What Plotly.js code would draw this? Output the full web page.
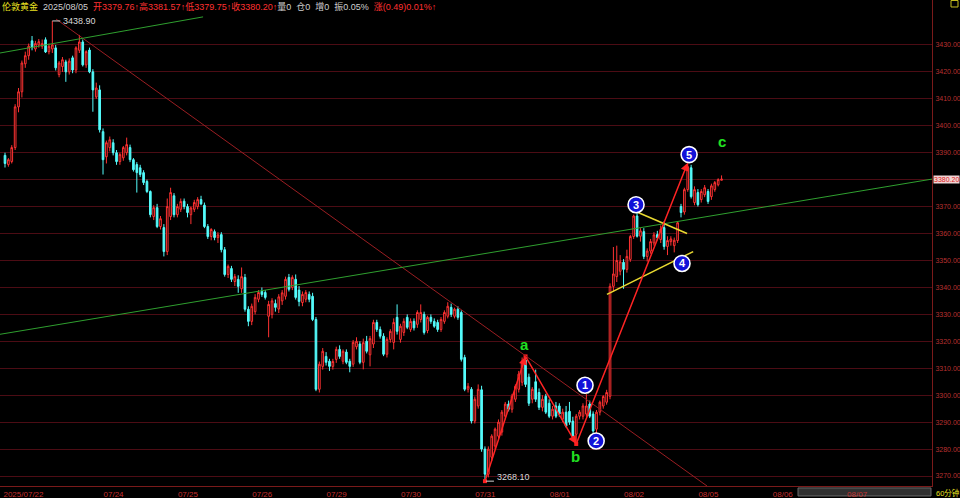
<!DOCTYPE html>
<html><head><meta charset="utf-8">
<script src="https://cdn.plot.ly/plotly-3.0.1.min.js"></script>
<style>html,body{margin:0;padding:0;background:#000;}#chart{width:960px;height:498px;}</style>
</head><body><div id="chart"></div>
<script>
const opens = [
3389,3385.6,3386.7,3391.9,3407,3412.6,3423,3426,3431.5,3428.5,
3430,3429.5,3431.9,3427.5,3428.5,3428.9,3419,3422,3423.7,3420,
3425.2,3420.7,3428,3431.1,3422.6,3428.1,3420,3410.7,3413.3,3397.8,
3388.5,3391.9,3393.7,3390,3386.7,3388.1,3390,3391.9,3387.4,3385.6,
3384.4,3382.6,3379.3,3375.6,3366.3,3369.6,3362.6,3362.2,3353.3,3366.3,
3374,3367,3369,3372,3370,3367,3369,3370,3372.6,3370.5,
3362.6,3358.9,3360.7,3358.5,3359.6,3354,3344.8,3347,3342.2,3343,
3339.5,3343.7,3331.9,3327.4,3331,3335.6,3338.5,3338.1,3329.3,3330,
3334,3332,3335,3336.7,3343.7,3340,3343,3339,3334.4,3335.6,
3337.4,3336.7,3328.1,3302.2,3310.7,3314.4,3312.6,3310.7,3313.3,3317,
3312.6,3316,3312.6,3311.5,3318,3319,3312.2,3320,3315,3319,
3327,3324.4,3321.9,3315.2,3320.7,3319.6,3328.9,3320.7,3323.3,3328.9,
3324.4,3327.4,3326.3,3328.1,3330,3324,3328.9,3327.4,3327,3324.4,
3327.4,3329.3,3332.6,3329.3,3331.9,3330.7,3314,3302.2,3302.2,3290.4,
3296,3302,3280,3270.7,3277,3281.1,3284.8,3286.3,3292.2,3296.7,
3294.8,3298.5,3302.2,3304.8,3313,3306.7,3298.5,3305,3301,3295.5,
3299.6,3297,3292.2,3296,3296,3291.1,3293.7,3294,3290.4,3285.5,
3292.2,3292.2,3293,3296.7,3293,3287.4,3293.7,3296,3297.4,3299.6,
3340.4,3344,3346,3349.3,3346.7,3350.4,3358.9,3366.5,3359,3360.7,
3351.5,3353.5,3356.5,3359.6,3357.8,3362.2,3355.2,3357,3355.5,3357.4,
3370,3368,3376.3,3384.4,3371.5,3375.2,3372.6,3374.4,3375.6,3373.7,
3376.3,3378.1,3379.76];
const highs = [
3390,3388,3392.8,3408,3414,3424.2,3427.5,3430.5,3433.3,3431.5,
3432.2,3432,3432.8,3430.5,3438.9,3430,3424,3425.5,3424.5,3425,
3426,3429.5,3433.7,3432,3428,3429,3421,3416,3415,3399,
3394.5,3396,3395,3391,3390,3392.5,3395.6,3393,3388,3386.5,
3385.5,3383.5,3380,3376,3370.5,3371,3366.5,3363.5,3373,3377,
3375,3371,3373,3373,3371,3370,3372.5,3373.5,3374,3371.5,
3363.5,3362,3361.5,3360.5,3360.5,3355,3348.5,3348,3345,3344.5,
3347.4,3345,3333,3334,3337.5,3339,3340,3339,3335,3336,
3335.5,3337.5,3339,3344,3345,3344.5,3344.8,3340.5,3338.5,3339,
3338.5,3338,3329,3312.5,3317.5,3316,3313.5,3313.5,3318,3318.5,
3317,3317,3313.5,3320.5,3321.5,3320,3321,3322,3322,3328,
3328,3325.5,3323,3321.5,3324.5,3328.5,3333.7,3326.5,3328.5,3330,
3328.5,3328.5,3331.5,3333.7,3331,3329.5,3330,3328.5,3328,3329,
3331.5,3334.5,3334,3332.5,3333,3331.5,3315,3304.5,3303,3299.5,
3304,3303.5,3281,3281,3285.5,3288,3291,3294.5,3297.5,3298,
3300.5,3304,3309,3314,3314.4,3308,3303,3309.5,3302.5,3300,
3300.5,3298.5,3296,3297.5,3297,3295,3296,3297.5,3292,3293,
3294.5,3297,3300.4,3298,3294,3294.5,3298,3300,3302,3341.5,
3355,3355.5,3352,3350.5,3354,3359.5,3367,3367.8,3362,3362,
3354.5,3358,3360.5,3361,3363,3364.5,3359,3359,3358.5,3364.5,
3371,3377,3386.3,3385.5,3377.5,3376.5,3376.5,3378,3376.5,3378.5,
3379.5,3380.5,3381.57];
const lows = [
3384.5,3384.8,3386,3391,3405,3410.5,3421.5,3424.5,3428,3427.5,
3429,3428.5,3427,3426.5,3427,3420.5,3418,3420,3416.3,3419,
3419.5,3419.5,3427,3422,3421.5,3419.5,3405.2,3410,3397.5,3381.9,
3386,3390.5,3389,3385.5,3385.5,3387,3389,3386.5,3383,3375.2,
3381,3378,3375,3366,3365,3362,3361.5,3351.5,3352,3365,
3366,3366,3368,3369,3366,3363.5,3368,3369,3370.5,3362,
3358,3357.5,3357.5,3356.5,3353,3344,3343.5,3342,3340.5,3338,
3338,3331,3325.6,3326,3330,3334.5,3336.5,3335.5,3321.5,3328.5,
3331,3330.5,3333.5,3335.5,3338.5,3339,3335.5,3333,3333,3334.5,
3334.5,3327.5,3301.5,3301,3309.5,3311,3309,3309.5,3312,3313.5,
3311.5,3311.5,3308.5,3310.5,3317,3311.5,3309.6,3315.5,3310.7,3317.5,
3323.5,3321,3314.5,3314,3319.5,3317,3322.5,3319.5,3322,3324.5,
3323.5,3324,3325,3327,3322.5,3323,3326.5,3325,3323.5,3323.5,
3326.5,3328.5,3329,3328.5,3328,3312.5,3301.5,3301,3289.5,3289.5,
3295,3279,3268.1,3269.5,3275.5,3280,3283.5,3285,3291,3294,
3293.5,3297.5,3301,3303.5,3303,3296,3297,3297.5,3294.5,3294,
3293,3291.5,3291,3291.5,3292,3290,3288,3289,3284,3281.9,
3291,3291,3292,3291.5,3286,3285.5,3292.5,3295,3296.5,3298.5,
3338.5,3342,3344.5,3339.5,3345.5,3349.5,3358,3358.5,3357,3350.5,
3349.6,3352.5,3355.5,3357.5,3356.5,3354,3352,3355.5,3353,3356.5,
3366,3367,3375.5,3373,3370.5,3370,3371.5,3373.5,3371,3372.5,
3375.5,3377.5,3379.75];
const closes = [
3386,3387.4,3391.9,3407,3412.6,3423.3,3426,3429.5,3429,3430.5,
3431.2,3430.5,3427.4,3429.5,3430,3421.5,3423.3,3424.5,3420,3424,
3420.7,3428.9,3431.1,3422.6,3427.5,3420,3413.3,3414,3398.5,3387.4,
3393.7,3394.8,3390,3386.7,3389.3,3391.9,3393,3387.4,3383.7,3382.6,
3381.9,3378.9,3375.6,3367,3369.6,3362.6,3365.5,3353.3,3370,3375.2,
3367,3370,3371.9,3370,3367.8,3369.5,3371.5,3372.6,3371,3362.6,
3358.9,3361.5,3358.5,3359.5,3354,3344.8,3347.8,3343,3344,3340.4,
3344,3331.9,3327.4,3333,3336.3,3338.1,3337.4,3336.3,3333.7,3335,
3332.6,3336.5,3338,3343,3339.3,3343.7,3336.3,3334.8,3337.4,3338.1,
3335.6,3328.1,3302.2,3311.5,3316.3,3312.2,3310.7,3312.5,3317,3314.4,
3316.3,3312.2,3310.7,3319.6,3320,3312.2,3319.5,3316.3,3321,3327,
3324.4,3321.9,3315.2,3320.7,3323.7,3327,3323.7,3325.6,3327.4,3325.2,
3327.4,3325,3330.7,3330.7,3323.3,3328.9,3327.4,3325.6,3324.4,3328.1,
3330.7,3333,3330,3331.9,3328.9,3313.3,3302.2,3303.3,3290.4,3298.5,
3302.2,3280,3270.7,3280,3284.8,3287.4,3290,3293.7,3296.7,3294.8,
3299.6,3303.3,3307.8,3312.6,3304,3297,3302.2,3298.5,3295.5,3298.5,
3293.7,3292.2,3294.8,3292.2,3293,3293.7,3288.5,3290,3284.8,3292.2,
3293.7,3296,3296,3292.2,3286.7,3293.7,3297.4,3299.5,3301,3340.4,
3345,3350,3349.5,3346.7,3351.5,3358.9,3366.5,3359,3361,3351.5,
3353.5,3357,3359.5,3358.5,3361.5,3355.2,3357.4,3358,3357.5,3364,
3367.8,3376.3,3384.8,3373.7,3376.3,3370.7,3375.6,3377,3371.9,3377.7,
3378.9,3380,3380.2];

// day boundaries (bar index) and their labels
const dayStarts = [-0.6, 29, 51, 73, 95, 117, 139, 161, 183, 205, 227, 249];
const dayLabels = ['2025/07/22','07/24','07/25','07/26','07/29','07/30','07/31','08/01','08/02','08/05','08/06','08/07'];
const priceTicks = [3270,3280,3290,3300,3310,3320,3330,3340,3350,3360,3370,3380,3390,3400,3410,3420,3430];
const lastPrice = 3380.20;

// wave points: low, a, b, 5 (bar indices)
const waveIdx = [142, 154, 169, 202];
// circled counts 1..5
const countText = ['1','2','3','4','5'];
const countIdx = [171.6, 174.9, 186.7, 200.3, 202.4];
const countPrice = [3303.7, 3283.0, 3370.7, 3348.9, 3389.3];
// letters a b c
const letterText = ['a','b','c'];
const letterIdx = [153.6, 168.9, 212];
const letterPrice = [3318.9, 3277.4, 3394.2];
// trend lines [x0,y0,x1,y1] in bar index / price
const redTrend = [15.1, 3439.6, 207.7, 3266.3];
const greenShort = [-1.48, 3427.0, 58.6, 3440.4];
const greenLong = [-1.48, 3322.6, 274.26, 3380.2];
const yellowUpper = [187.3, 3367.8, 201.8, 3360.0];
const yellowLower = [178.1, 3337.4, 203.6, 3353.3];

const xs = opens.map((_, i) => i);
const wavePrice = [lows[waveIdx[0]], highs[waveIdx[1]], lows[waveIdx[2]], highs[waveIdx[3]]];
const maxI = highs.indexOf(Math.max(...highs));
const minI = lows.indexOf(Math.min(...lows));

const FONT = 'Liberation Sans, Noto Sans CJK SC, sans-serif';
const GRID = '#4c0c14';
const AXIS = '#7a1a1a';

const candles = {
  type: 'candlestick', x: xs, open: opens, high: highs, low: lows, close: closes,
  increasing: {line: {color: '#ff3232', width: 1}, fillcolor: '#000000'},
  decreasing: {line: {color: '#54fcfc', width: 1}, fillcolor: '#54fcfc'},
  whiskerwidth: 0, hoverinfo: 'skip'
};
const dots = {
  type: 'scatter', mode: 'markers', x: waveIdx.slice(0, 3), y: wavePrice.slice(0, 3),
  marker: {symbol: 'square', size: 4, color: '#ff2020'}, hoverinfo: 'skip'
};

function seg(c, color, w) {
  return {type: 'line', xref: 'x', yref: 'y', x0: c[0], y0: c[1], x1: c[2], y1: c[3],
          line: {color: color, width: w}, layer: 'above'};
}
const shapes = [
  seg(redTrend, '#9a1e22', 1),
  seg(greenShort, '#2f9f2f', 1),
  seg(greenLong, '#2f9f2f', 1),
  seg(yellowUpper, '#e8d830', 1.5),
  seg(yellowLower, '#e8d830', 1.5),
  {type: 'line', xref: 'x', yref: 'y', xsizemode: 'pixel', xanchor: maxI, x0: 0, x1: 8,
   y0: highs[maxI], y1: highs[maxI], line: {color: '#d0d0d0', width: 1}},
  {type: 'line', xref: 'x', yref: 'y', xsizemode: 'pixel', xanchor: minI, x0: 1, x1: 9,
   y0: lows[minI], y1: lows[minI], line: {color: '#d0d0d0', width: 1}},
  {type: 'rect', xref: 'paper', yref: 'paper', x0: 798/932, x1: 931/932, y0: -0.0205, y1: -0.004,
   fillcolor: '#303030', line: {color: '#6a6a6a', width: 1}, layer: 'below'},
  {type: 'rect', xref: 'paper', yref: 'paper', x0: 951/932, x1: 958/932, y0: 1 - 7/487, y1: 0.999,
   fillcolor: 'rgba(0,0,0,0)', line: {color: '#c8c020', width: 1}}
];
countIdx.forEach((xv, k) => {
  shapes.push({type: 'circle', xref: 'x', yref: 'y', xsizemode: 'pixel', ysizemode: 'pixel',
    xanchor: xv, yanchor: countPrice[k], x0: -8, x1: 8, y0: -8, y1: 8,
    fillcolor: '#1212d8', line: {color: '#ffffff', width: 1.6}});
});

const annotations = [];
// wave arrows
for (let k = 1; k < waveIdx.length; k++) {
  annotations.push({x: waveIdx[k], y: wavePrice[k], ax: waveIdx[k-1], ay: wavePrice[k-1],
    xref: 'x', yref: 'y', axref: 'x', ayref: 'y', text: '', showarrow: true,
    arrowhead: 2, arrowsize: 1.1, arrowwidth: 1.5, arrowcolor: '#ff2424', standoff: 0, startstandoff: 0});
}
countIdx.forEach((xv, k) => {
  annotations.push({x: xv, y: countPrice[k], xref: 'x', yref: 'y', text: '<b>' + countText[k] + '</b>',
    showarrow: false, font: {family: 'Liberation Sans, sans-serif', size: 11, color: '#ffffff'}});
});
letterIdx.forEach((xv, k) => {
  annotations.push({x: xv, y: letterPrice[k], xref: 'x', yref: 'y', text: '<b>' + letterText[k] + '</b>',
    showarrow: false, font: {family: 'Liberation Sans, sans-serif', size: 15, color: '#22e022'}});
});
annotations.push({x: maxI, y: highs[maxI], xref: 'x', yref: 'y', xanchor: 'left', yanchor: 'middle', xshift: 9,
  text: highs[maxI].toFixed(2), showarrow: false, font: {family: FONT, size: 9, color: '#d8d8d8'}});
annotations.push({x: minI, y: lows[minI], xref: 'x', yref: 'y', xanchor: 'left', yanchor: 'middle', xshift: 10, yshift: 4,
  text: lows[minI].toFixed(2), showarrow: false, font: {family: FONT, size: 9, color: '#d8d8d8'}});
// last price box
annotations.push({x: 1, y: lastPrice, xref: 'paper', yref: 'y', xanchor: 'left', yanchor: 'middle', xshift: 1,
  text: lastPrice.toFixed(2), showarrow: false, bgcolor: '#f2d4d4', borderpad: 0,
  font: {family: FONT, size: 7, color: '#d82020'}});
// period label
annotations.push({x: 1, y: 0, xref: 'paper', yref: 'paper', xanchor: 'left', yanchor: 'top', xshift: 2, yshift: 0,
  text: '60分钟', showarrow: false, font: {family: FONT, size: 7.5, color: '#e8e020'}});
// header
annotations.push({x: 0, y: 1, xref: 'paper', yref: 'paper', xanchor: 'left', yanchor: 'top', yshift: 1,
  showarrow: false, font: {family: FONT, size: 9, color: '#d0d0d0'},
  text: '<span style="color:#e8e020">伦敦黄金</span>  2025/08/05  ' +
        '<span style="color:#ff3030">开3379.76↑高3381.57↑低3379.75↑收3380.20↑</span>' +
        '量0  仓0  增0  振0.05%  <span style="color:#ff3030">涨(0.49)0.01%↑</span>'});

const layout = {
  width: 960, height: 498,
  paper_bgcolor: '#000000', plot_bgcolor: '#000000',
  margin: {l: 0, r: 28, t: 0, b: 12, pad: 0},
  showlegend: false,
  xaxis: {
    range: [-1.48, 274.26], rangeslider: {visible: false}, showgrid: false, zeroline: false,
    tickmode: 'array', tickvals: dayStarts, ticktext: dayLabels,
    ticklabelposition: 'outside right', ticks: '', ticklabelstandoff: 0,
    tickfont: {family: FONT, size: 8, color: '#c43030'},
    showline: true, linecolor: AXIS, linewidth: 1, fixedrange: true
  },
  yaxis: {
    side: 'right', range: [3266.3, 3446.67], tickmode: 'array', tickvals: priceTicks,
    ticktext: priceTicks.map(v => v === 3380 ? '' : v.toFixed(2)),
    showgrid: true, gridcolor: GRID, gridwidth: 1, zeroline: false,
    showline: true, linecolor: AXIS, linewidth: 1, ticks: '', ticklabelstandoff: 1,
    tickfont: {family: FONT, size: 7, color: '#b83030'}, fixedrange: true
  },
  shapes: shapes,
  annotations: annotations
};

Plotly.newPlot('chart', [candles, dots], layout, {displayModeBar: false, staticPlot: true});
</script></body></html>
